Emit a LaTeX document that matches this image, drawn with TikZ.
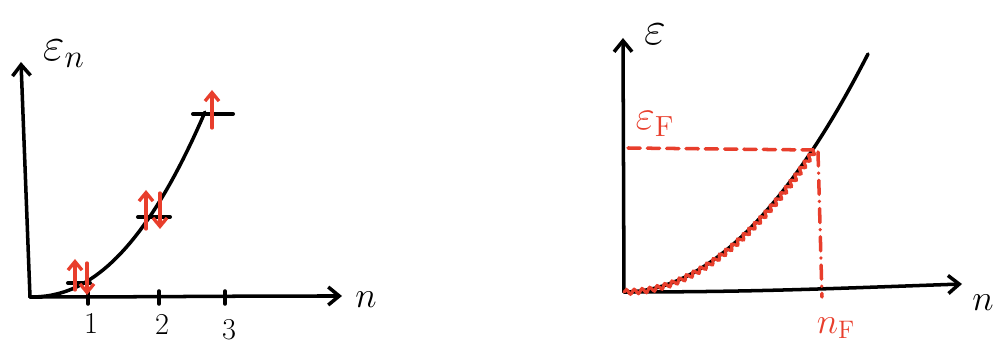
\documentclass[tikz,border=0pt]{standalone}
\usepackage{amsmath,amssymb}
\usepackage{xcolor}
\usepackage{tikz}
\usetikzlibrary{arrows.meta, positioning, calc, decorations.pathmorphing}

\definecolor{penred}{RGB}{232,62,44}
\newcommand{\biglbl}[1]{\scalebox{1.3}{$#1$}}

\begin{document}
\begin{tikzpicture}[
    x=0.02cm, y=-0.02cm,
    pen/.style={line width=2pt, line cap=round, line join=round},
    axis/.style={pen, -{Straight Barb[length=2.2mm, width=3.6mm]}},
    level/.style={pen, line width=2.3pt},
    spin/.style={pen, penred, line width=1.9pt, -{Straight Barb[length=1.7mm, width=2.8mm]}},
    lbl/.style={font=\huge, inner sep=0pt},
    ticklbl/.style={font=\LARGE, inner sep=0pt},
    redlbl/.style={lbl, text=penred},
  ]
  \useasboundingbox (0,0) rectangle (995,347);

  % left panel: levels filled with spins
  \coordinate (O1) at (30,297);
  \coordinate (Y1) at (21,62);
  \coordinate (X1) at (342,296);
  \draw[axis] (O1) -- (Y1);
  \draw[axis] (O1) to[out=0, in=180] (X1);
  \node[lbl] (En) at (64,54) {\biglbl{\varepsilon_n}};
  \node[font=\huge, inner sep=0pt] (n1) at (366,300) {$n$};

  \foreach \x/\lab [count=\i] in {88/1, 159/2, 225/3} {
    \coordinate (t\i) at (\x,297);
    \draw[pen] ($(t\i)+(0,-6)$) -- ($(t\i)+(0,7)$);
  }
  \node[ticklbl] (k1) at (91,323) {1};
  \node[ticklbl] (k2) at (162,324) {2};
  \node[ticklbl] (k3) at (229,330) {3};

  \draw[pen] (O1) -- plot[domain=0.02:1, samples=40] ({30+175*\x},{297-185*\x^2.2});

  \draw[level] (68,283) -- (90,283);
  \draw[level] (138,217) -- (170,217);
  \draw[level] (193,114) -- (233,114);

  \draw[spin] (75,290) -- (75,259);
  \draw[spin] (87,263) -- (87,295);
  \draw[spin] (146,229) -- (146,190);
  \draw[spin] (160,193) -- (160,229);
  \draw[spin] (212,128) -- (212,90);

  % right panel: Fermi level
  \coordinate (O2) at (624,292);
  \coordinate (Y2) at (623,38);
  \coordinate (X2) at (962,284);
  \coordinate (F) at (813,150);
  \draw[axis] (O2) -- (Y2);
  \draw[axis] (O2) to[out=0, in=182] (X2);
  \node[lbl] (E) at (655,34) {\biglbl{\varepsilon}};
  \node[font=\huge, inner sep=0pt, anchor=east] (n2) at (994,303) {$n$};

  \draw[pen] plot[domain=0:244, samples=50] ({624+\x},{292-0.0040*\x*\x});
  \draw[penred, line width=1.8pt, line cap=round, decorate,
        decoration={snake, amplitude=1.3pt, segment length=4.5pt}]
    plot[domain=0:189, samples=40] ({624+\x},{292-0.0040*\x*\x});

  \draw[pen, penred, dash pattern=on 7pt off 4pt] (628,148) -- (F);
  \draw[pen, penred, dash pattern=on 8pt off 4pt on 0.1pt off 4pt]
    ($(F)+(5,2)$) -- (822,297);

  \node[redlbl] (EF) at (655,124) {\scalebox{1.15}{$\varepsilon_{\mathrm{F}}$}};
  \node[font=\huge, text=penred, inner sep=0pt] (nF) at (836,328) {$n_{\mathrm{F}}$};
\end{tikzpicture}
\end{document}
